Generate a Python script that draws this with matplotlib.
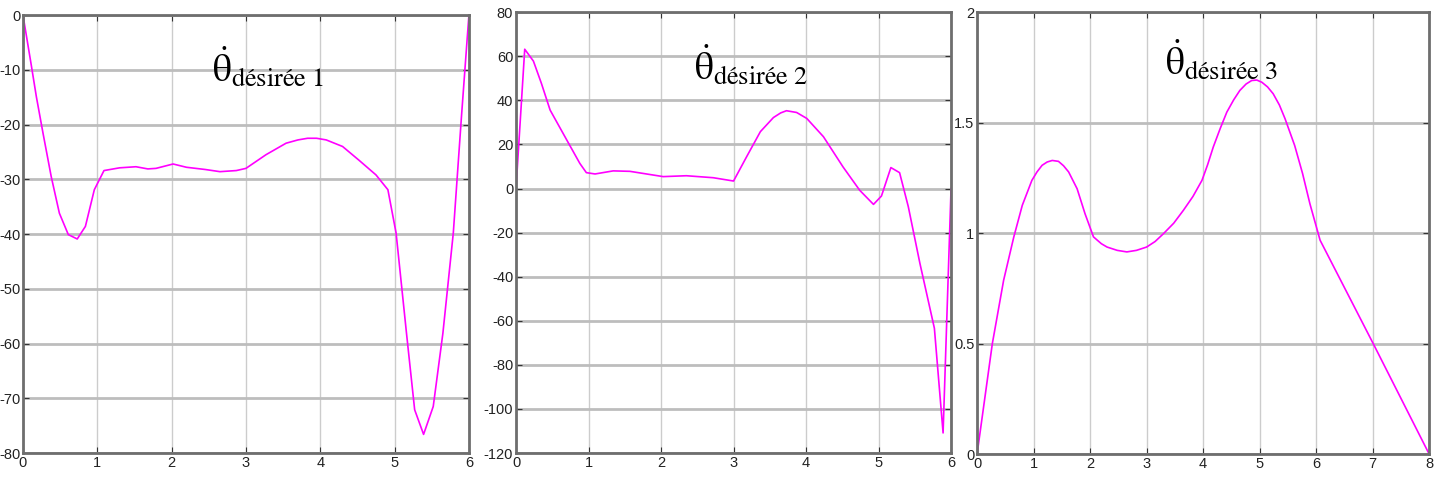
import numpy as np
import matplotlib.pyplot as plt

plt.rcParams['mathtext.fontset'] = 'stix'

# panel 1 : desired joint velocity 1
t1 = [0, 0.11, 0.18, 0.27, 0.38, 0.49, 0.61, 0.73, 0.84, 0.96, 1.09, 1.3, 1.52, 1.68, 1.79,
      2.02, 2.2, 2.45, 2.65, 2.87, 3.0, 3.27, 3.54, 3.7, 3.83, 3.95, 4.08, 4.3, 4.52, 4.75, 4.91,
      5.02, 5.16, 5.27, 5.39, 5.52, 5.65, 5.79, 5.9, 6.0]
v1 = [0, -9, -14.9, -21.6, -29.5, -36.2, -40.1, -40.9, -38.6, -31.9, -28.4, -27.9, -27.7, -28.1, -28.0,
      -27.2, -27.8, -28.2, -28.6, -28.4, -28.0, -25.5, -23.4, -22.8, -22.5, -22.5, -22.8, -24.0, -26.5, -29.2, -31.9,
      -39.8, -58.1, -72.1, -76.6, -71.5, -58.1, -39.8, -18.5, 0]

# panel 2 : desired joint velocity 2
t2 = [0, 0.12, 0.24, 0.35, 0.47, 0.7, 0.88, 0.97, 1.09, 1.34, 1.57, 1.8, 2.03, 2.35,
      2.72, 3.0, 3.18, 3.37, 3.55, 3.65, 3.73, 3.87, 4.01, 4.24, 4.51, 4.74, 4.93, 5.04,
      5.17, 5.29, 5.41, 5.57, 5.77, 5.89, 6.0]
v2 = [0, 63.2, 57.8, 47.7, 35.6, 22, 11.4, 7.2, 6.6, 8, 7.8, 6.6, 5.4, 5.8,
      4.9, 3.4, 14.4, 25.8, 32.2, 34.3, 35.3, 34.5, 31.8, 23.5, 9.8, -0.8, -7.2, -3.4,
      9.5, 7.2, -8.2, -33.9, -63.4, -110.9, 0]

# panel 3 : desired joint velocity 3
t3 = [0, 0.27, 0.47, 0.65, 0.8, 0.97, 1.06, 1.15, 1.24, 1.33, 1.44, 1.53, 1.62, 1.77, 1.91,
      2.06, 2.2, 2.3, 2.48, 2.65, 2.82, 3.0, 3.15, 3.3, 3.48, 3.65, 3.82, 3.98, 4.08, 4.18,
      4.3, 4.42, 4.54, 4.65, 4.76, 4.86, 4.95, 5.04, 5.14, 5.24, 5.35, 5.45, 5.62, 5.76,
      5.89, 6.07, 7.01, 8.0]
v3 = [0, 0.5, 0.787, 0.983, 1.126, 1.239, 1.277, 1.307, 1.322, 1.329, 1.325, 1.305, 1.277, 1.201, 1.088,
      0.983, 0.952, 0.937, 0.922, 0.915, 0.922, 0.937, 0.962, 0.998, 1.045, 1.103, 1.166, 1.239, 1.31, 1.39,
      1.472, 1.548, 1.603, 1.646, 1.675, 1.691, 1.693, 1.683, 1.662, 1.631, 1.58, 1.518, 1.397, 1.27,
      1.133, 0.968, 0.5, 0]

titles = [r'$\dot{\mathrm{θ}}_{\mathrm{désirée\ 1}}$',
          r'$\dot{\mathrm{θ}}_{\mathrm{désirée\ 2}}$',
          r'$\dot{\mathrm{θ}}_{\mathrm{désirée\ 3}}$']

fig = plt.figure(figsize=(14.54, 4.86), dpi=100)

boxes = [[0.0158, 0.0679, 0.3067, 0.901],
         [0.3549, 0.0679, 0.2992, 0.907],
         [0.672, 0.0658, 0.3109, 0.909]]
series = [(t1, v1), (t2, v2), (t3, v3)]
xlims = [(0, 6), (0, 6), (0, 8)]
ylims = [(-80, 0), (-120, 80), (0, 2)]
yticks = [np.arange(-80, 1, 10), np.arange(-120, 81, 20), np.arange(0, 2.01, 0.5)]
title_pos = [(0.55, 0.88), (0.54, 0.88), (0.54, 0.89)]

for i in range(3):
    ax = fig.add_axes(boxes[i])
    t, v = series[i]
    ax.plot(t, v, color='#ff00ff', lw=1.2)
    ax.set_xlim(xlims[i])
    ax.set_ylim(ylims[i])
    ax.set_yticks(yticks[i])
    ax.set_yticklabels(['%g' % y for y in yticks[i]])
    ax.xaxis.grid(True, color='#cccccc', lw=1.0)
    ax.yaxis.grid(True, color='#bdbdbd', lw=2.0)
    ax.tick_params(direction='in', top=True, right=True, length=4, color='#333333',
                   labelsize=10.5, labelcolor='#222222', pad=2)
    for lab in ax.get_xticklabels() + ax.get_yticklabels():
        lab.set_family(['Liberation Sans', 'DejaVu Sans'])
    for sp in ax.spines.values():
        sp.set_color('#6e6e6e')
        sp.set_linewidth(2.0)
    ax.text(title_pos[i][0], title_pos[i][1], titles[i], transform=ax.transAxes,
            ha='center', va='center', fontsize=27, color='black')

fig.savefig('out.png', dpi=100)
